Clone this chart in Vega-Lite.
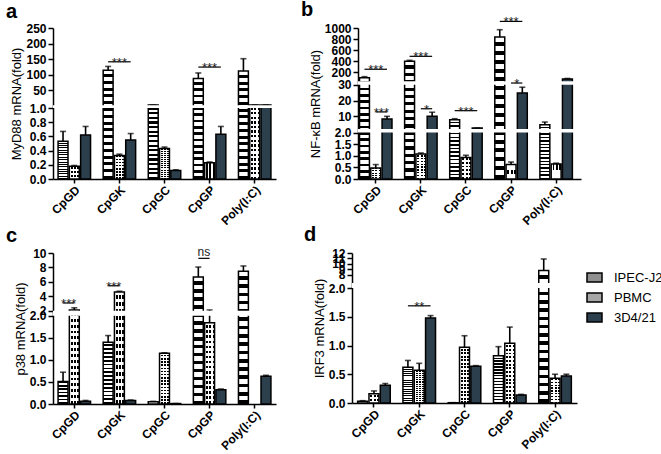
{
  "$schema": "https://vega.github.io/schema/vega-lite/v6.json",
  "padding": {"left": 6, "top": 0, "right": 2, "bottom": 0},
  "datasets": {
    "a": [
      {"key": "CpGD|IPEC-J2", "series": "IPEC-J2", "value": 0.53, "err": 0.67},
      {"key": "CpGD|PBMC", "series": "PBMC", "value": 0.18, "err": 0.19},
      {"key": "CpGD|3D4/21", "series": "3D4/21", "value": 0.62, "err": 0.74},
      {"key": "CpGK|IPEC-J2", "series": "IPEC-J2", "value": 114, "err": 126},
      {"key": "CpGK|PBMC", "series": "PBMC", "value": 0.33, "err": 0.35},
      {"key": "CpGK|3D4/21", "series": "3D4/21", "value": 0.55, "err": 0.64},
      {"key": "CpGC|IPEC-J2", "series": "IPEC-J2", "value": 1.5, "err": 1.5},
      {"key": "CpGC|PBMC", "series": "PBMC", "value": 0.43, "err": 0.45},
      {"key": "CpGC|3D4/21", "series": "3D4/21", "value": 0.12, "err": 0.13},
      {"key": "CpGP|IPEC-J2", "series": "IPEC-J2", "value": 87, "err": 105},
      {"key": "CpGP|PBMC", "series": "PBMC", "value": 0.23, "err": 0.24},
      {"key": "CpGP|3D4/21", "series": "3D4/21", "value": 0.63, "err": 0.74},
      {"key": "Poly(I:C)|IPEC-J2", "series": "IPEC-J2", "value": 111, "err": 151},
      {"key": "Poly(I:C)|PBMC", "series": "PBMC", "value": 1.5, "err": 1.5},
      {"key": "Poly(I:C)|3D4/21", "series": "3D4/21", "value": 1.5, "err": 1.5}
    ],
    "as": [
      {"from": "CpGK|IPEC-J2", "to": "CpGK|3D4/21", "y": 141, "label": "***", "span": 2},
      {"from": "CpGP|IPEC-J2", "to": "CpGP|3D4/21", "y": 124, "label": "***", "span": 2}
    ],
    "b": [
      {"key": "CpGD|IPEC-J2", "series": "IPEC-J2", "value": 95, "err": 115},
      {"key": "CpGD|PBMC", "series": "PBMC", "value": 0.47, "err": 0.62},
      {"key": "CpGD|3D4/21", "series": "3D4/21", "value": 8.3, "err": 10},
      {"key": "CpGK|IPEC-J2", "series": "IPEC-J2", "value": 394, "err": 412},
      {"key": "CpGK|PBMC", "series": "PBMC", "value": 1.07, "err": 1.12},
      {"key": "CpGK|3D4/21", "series": "3D4/21", "value": 10, "err": 12.6},
      {"key": "CpGC|IPEC-J2", "series": "IPEC-J2", "value": 7.9, "err": 8.5},
      {"key": "CpGC|PBMC", "series": "PBMC", "value": 0.93, "err": 1.02},
      {"key": "CpGC|3D4/21", "series": "3D4/21", "value": 2.6, "err": 2.6},
      {"key": "CpGP|IPEC-J2", "series": "IPEC-J2", "value": 836, "err": 969},
      {"key": "CpGP|PBMC", "series": "PBMC", "value": 0.62, "err": 0.73},
      {"key": "CpGP|3D4/21", "series": "3D4/21", "value": 24.8, "err": 28.4},
      {"key": "Poly(I:C)|IPEC-J2", "series": "IPEC-J2", "value": 4.7, "err": 6.4},
      {"key": "Poly(I:C)|PBMC", "series": "PBMC", "value": 0.65, "err": 0.68},
      {"key": "Poly(I:C)|3D4/21", "series": "3D4/21", "value": 72, "err": 82}
    ],
    "bs": [
      {"from": "CpGD|IPEC-J2", "to": "CpGD|3D4/21", "y": 250, "label": "***", "span": 2},
      {"from": "CpGD|PBMC", "to": "CpGD|3D4/21", "y": 12.8, "label": "***", "span": 1},
      {"from": "CpGK|IPEC-J2", "to": "CpGK|3D4/21", "y": 485, "label": "***", "span": 2},
      {"from": "CpGK|PBMC", "to": "CpGK|3D4/21", "y": 14.8, "label": "*", "span": 1},
      {"from": "CpGC|IPEC-J2", "to": "CpGC|3D4/21", "y": 13.6, "label": "***", "span": 2},
      {"from": "CpGP|IPEC-J2", "to": "CpGP|3D4/21", "y": 1120, "label": "***", "span": 2},
      {"from": "CpGP|PBMC", "to": "CpGP|3D4/21", "y": 30.00005, "label": "*", "span": 1}
    ],
    "c": [
      {"key": "CpGD|IPEC-J2", "series": "IPEC-J2", "value": 0.51, "err": 0.72},
      {"key": "CpGD|PBMC", "series": "PBMC", "value": 2.1, "err": 2.4},
      {"key": "CpGD|3D4/21", "series": "3D4/21", "value": 0.06, "err": 0.08},
      {"key": "CpGK|IPEC-J2", "series": "IPEC-J2", "value": 1.4, "err": 1.55},
      {"key": "CpGK|PBMC", "series": "PBMC", "value": 4.6, "err": 4.7},
      {"key": "CpGK|3D4/21", "series": "3D4/21", "value": 0.08, "err": 0.09},
      {"key": "CpGC|IPEC-J2", "series": "IPEC-J2", "value": 0.05, "err": 0.06},
      {"key": "CpGC|PBMC", "series": "PBMC", "value": 1.15, "err": 1.16},
      {"key": "CpGC|3D4/21", "series": "3D4/21", "value": 0.01, "err": 0.01},
      {"key": "CpGP|IPEC-J2", "series": "IPEC-J2", "value": 6.67, "err": 8.05},
      {"key": "CpGP|PBMC", "series": "PBMC", "value": 1.84, "err": 2.1},
      {"key": "CpGP|3D4/21", "series": "3D4/21", "value": 0.32, "err": 0.34},
      {"key": "Poly(I:C)|IPEC-J2", "series": "IPEC-J2", "value": 7.46, "err": 8.2},
      {"key": "Poly(I:C)|3D4/21", "series": "3D4/21", "value": 0.63, "err": 0.65}
    ],
    "cs": [
      {"from": "CpGD|IPEC-J2", "to": "CpGD|PBMC", "y": 3.07, "label": "***", "span": 1},
      {"from": "CpGK|IPEC-J2", "to": "CpGK|PBMC", "y": 5.46, "label": "***", "span": 1},
      {"from": "CpGP|IPEC-J2", "to": "CpGP|PBMC", "y": 9.26, "label": "ns", "span": 1}
    ],
    "d": [
      {"key": "CpGD|IPEC-J2", "series": "IPEC-J2", "value": 0.03, "err": 0.04},
      {"key": "CpGD|PBMC", "series": "PBMC", "value": 0.16, "err": 0.21},
      {"key": "CpGD|3D4/21", "series": "3D4/21", "value": 0.31, "err": 0.34},
      {"key": "CpGK|IPEC-J2", "series": "IPEC-J2", "value": 0.62, "err": 0.74},
      {"key": "CpGK|PBMC", "series": "PBMC", "value": 0.57, "err": 0.69},
      {"key": "CpGK|3D4/21", "series": "3D4/21", "value": 1.48, "err": 1.52},
      {"key": "CpGC|IPEC-J2", "series": "IPEC-J2", "value": 0.005, "err": 0.005},
      {"key": "CpGC|PBMC", "series": "PBMC", "value": 0.97, "err": 1.17},
      {"key": "CpGC|3D4/21", "series": "3D4/21", "value": 0.64, "err": 0.65},
      {"key": "CpGP|IPEC-J2", "series": "IPEC-J2", "value": 0.82, "err": 0.98},
      {"key": "CpGP|PBMC", "series": "PBMC", "value": 1.04, "err": 1.32},
      {"key": "CpGP|3D4/21", "series": "3D4/21", "value": 0.14, "err": 0.15},
      {"key": "Poly(I:C)|IPEC-J2", "series": "IPEC-J2", "value": 8.8, "err": 10.9},
      {"key": "Poly(I:C)|PBMC", "series": "PBMC", "value": 0.43, "err": 0.5},
      {"key": "Poly(I:C)|3D4/21", "series": "3D4/21", "value": 0.47, "err": 0.5}
    ],
    "ds": [
      {"from": "CpGK|IPEC-J2", "to": "CpGK|3D4/21", "y": 1.69, "label": "**", "span": 2}
    ],
    "one": [{}]
  },
  "spacing": -2,
  "vconcat": [
    {
      "spacing": 25,
      "hconcat": [
        {
          "title": {"text": "a", "dx": -47, "offset": 0},
          "width": 223, "height": 151,
          "layer": [
            {"data": {"name": "a"}, "mark": {"type": "bar"},
             "encoding": {
               "x": {"field": "key", "type": "nominal", "scale": {"domain": ["CpGD|IPEC-J2","CpGD|PBMC","CpGD|3D4/21","g1","CpGK|IPEC-J2","CpGK|PBMC","CpGK|3D4/21","g2","CpGC|IPEC-J2","CpGC|PBMC","CpGC|3D4/21","g3","CpGP|IPEC-J2","CpGP|PBMC","CpGP|3D4/21","g4","Poly(I:C)|IPEC-J2","Poly(I:C)|PBMC","Poly(I:C)|3D4/21"], "paddingInner": 0.12, "paddingOuter": 0.45},
                     "axis": {"values": ["CpGD|PBMC","CpGK|PBMC","CpGC|PBMC","CpGP|PBMC","Poly(I:C)|PBMC"], "labelExpr": "split(datum.value,'|')[0]", "labelAngle": -45, "title": null, "tickSize": 4, "labelPadding": 1, "labelOverlap": false}},
               "y": {"field": "value", "type": "quantitative", "scale": {"domain": [0, 1, 1.0001, 250], "range": [151, 80, 77.2, 0], "nice": false, "zero": false},
                     "axis": {"values": [0, 0.2, 0.4, 0.6, 0.8, 1, 50, 100, 150, 200, 250], "tickCount": 50, "labelExpr": "datum.value <= 1 ? format(datum.value,'.1f') : format(datum.value,'d')", "title": "MyD88 mRNA(fold)", "labelOverlap": false}},
               "fill": {"field": "series", "type": "nominal", "scale": {"domain": ["IPEC-J2", "PBMC", "3D4/21"], "range": ["#8f8f8f", "#a6a6a6", "#2c3f4c"]},
                        "legend": {"orient": "none", "legendX": 533, "legendY": 241, "title": null, "symbolType": "M-1,-0.6H1V0.6H-1Z", "symbolSize": 225, "symbolStrokeColor": "#000", "symbolStrokeWidth": 1.5, "symbolOpacity": 1, "labelFontSize": 13, "labelFont": "Liberation Sans", "labelColor": "#000", "labelOffset": 11, "rowPadding": 4}}
             }},
            {"data": {"name": "a"}, "transform": [{"filter": "datum.series === 'IPEC-J2'"}], "mark": {"type": "bar", "fill": {"gradient": "linear", "x1": 0, "y1": 0, "x2": 0, "y2": 1, "stops": [
        {"offset": 0, "color": "#fff"}, {"offset": 0.035, "color": "#fff"}, {"offset": 0.035, "color": "#000"}, {"offset": 0.0625, "color": "#000"},
        {"offset": 0.0625, "color": "#fff"}, {"offset": 0.0975, "color": "#fff"}, {"offset": 0.0975, "color": "#000"}, {"offset": 0.125, "color": "#000"},
        {"offset": 0.125, "color": "#fff"}, {"offset": 0.16, "color": "#fff"}, {"offset": 0.16, "color": "#000"}, {"offset": 0.1875, "color": "#000"},
        {"offset": 0.1875, "color": "#fff"}, {"offset": 0.2225, "color": "#fff"}, {"offset": 0.2225, "color": "#000"}, {"offset": 0.25, "color": "#000"},
        {"offset": 0.25, "color": "#fff"}, {"offset": 0.285, "color": "#fff"}, {"offset": 0.285, "color": "#000"}, {"offset": 0.3125, "color": "#000"},
        {"offset": 0.3125, "color": "#fff"}, {"offset": 0.3475, "color": "#fff"}, {"offset": 0.3475, "color": "#000"}, {"offset": 0.375, "color": "#000"},
        {"offset": 0.375, "color": "#fff"}, {"offset": 0.41, "color": "#fff"}, {"offset": 0.41, "color": "#000"}, {"offset": 0.4375, "color": "#000"},
        {"offset": 0.4375, "color": "#fff"}, {"offset": 0.4725, "color": "#fff"}, {"offset": 0.4725, "color": "#000"}, {"offset": 0.5, "color": "#000"},
        {"offset": 0.5, "color": "#fff"}, {"offset": 0.535, "color": "#fff"}, {"offset": 0.535, "color": "#000"}, {"offset": 0.5625, "color": "#000"},
        {"offset": 0.5625, "color": "#fff"}, {"offset": 0.5975, "color": "#fff"}, {"offset": 0.5975, "color": "#000"}, {"offset": 0.625, "color": "#000"},
        {"offset": 0.625, "color": "#fff"}, {"offset": 0.66, "color": "#fff"}, {"offset": 0.66, "color": "#000"}, {"offset": 0.6875, "color": "#000"},
        {"offset": 0.6875, "color": "#fff"}, {"offset": 0.7225, "color": "#fff"}, {"offset": 0.7225, "color": "#000"}, {"offset": 0.75, "color": "#000"},
        {"offset": 0.75, "color": "#fff"}, {"offset": 0.785, "color": "#fff"}, {"offset": 0.785, "color": "#000"}, {"offset": 0.8125, "color": "#000"},
        {"offset": 0.8125, "color": "#fff"}, {"offset": 0.8475, "color": "#fff"}, {"offset": 0.8475, "color": "#000"}, {"offset": 0.875, "color": "#000"},
        {"offset": 0.875, "color": "#fff"}, {"offset": 0.91, "color": "#fff"}, {"offset": 0.91, "color": "#000"}, {"offset": 0.9375, "color": "#000"},
        {"offset": 0.9375, "color": "#fff"}, {"offset": 0.9725, "color": "#fff"}, {"offset": 0.9725, "color": "#000"}, {"offset": 1, "color": "#000"}]}},
             "encoding": {"x": {"field": "key", "type": "nominal"}, "y": {"field": "value", "type": "quantitative"}}},
            {"data": {"name": "a"}, "transform": [{"filter": "datum.series === 'PBMC'"}], "mark": {"type": "bar", "fill": {"gradient": "linear", "x1": 0, "y1": 0, "x2": 1, "y2": 0, "stops": [
        {"offset": 0, "color": "#fff"}, {"offset": 0.1333, "color": "#fff"}, {"offset": 0.1333, "color": "#000"}, {"offset": 0.3333, "color": "#000"},
        {"offset": 0.3333, "color": "#fff"}, {"offset": 0.4667, "color": "#fff"}, {"offset": 0.4667, "color": "#000"}, {"offset": 0.6667, "color": "#000"},
        {"offset": 0.6667, "color": "#fff"}, {"offset": 0.8, "color": "#fff"}, {"offset": 0.8, "color": "#000"}, {"offset": 1, "color": "#000"}]}},
             "encoding": {"x": {"field": "key", "type": "nominal"}, "y": {"field": "value", "type": "quantitative"}}},
            {"data": {"name": "a"}, "transform": [{"filter": "datum.series === 'PBMC'"}], "mark": {"type": "bar", "fill": {"gradient": "linear", "x1": 0, "y1": 0, "x2": 0, "y2": 1, "stops": [
      {"offset": 0, "color": "#fff"}, {"offset": 0.03125, "color": "#fff"}, {"offset": 0.03125, "color": "rgba(255,255,255,0)"}, {"offset": 0.0625, "color": "rgba(255,255,255,0)"},
      {"offset": 0.0625, "color": "#fff"}, {"offset": 0.09375, "color": "#fff"}, {"offset": 0.09375, "color": "rgba(255,255,255,0)"}, {"offset": 0.125, "color": "rgba(255,255,255,0)"},
      {"offset": 0.125, "color": "#fff"}, {"offset": 0.15625, "color": "#fff"}, {"offset": 0.15625, "color": "rgba(255,255,255,0)"}, {"offset": 0.1875, "color": "rgba(255,255,255,0)"},
      {"offset": 0.1875, "color": "#fff"}, {"offset": 0.21875, "color": "#fff"}, {"offset": 0.21875, "color": "rgba(255,255,255,0)"}, {"offset": 0.25, "color": "rgba(255,255,255,0)"},
      {"offset": 0.25, "color": "#fff"}, {"offset": 0.28125, "color": "#fff"}, {"offset": 0.28125, "color": "rgba(255,255,255,0)"}, {"offset": 0.3125, "color": "rgba(255,255,255,0)"},
      {"offset": 0.3125, "color": "#fff"}, {"offset": 0.34375, "color": "#fff"}, {"offset": 0.34375, "color": "rgba(255,255,255,0)"}, {"offset": 0.375, "color": "rgba(255,255,255,0)"},
      {"offset": 0.375, "color": "#fff"}, {"offset": 0.40625, "color": "#fff"}, {"offset": 0.40625, "color": "rgba(255,255,255,0)"}, {"offset": 0.4375, "color": "rgba(255,255,255,0)"},
      {"offset": 0.4375, "color": "#fff"}, {"offset": 0.46875, "color": "#fff"}, {"offset": 0.46875, "color": "rgba(255,255,255,0)"}, {"offset": 0.5, "color": "rgba(255,255,255,0)"},
      {"offset": 0.5, "color": "#fff"}, {"offset": 0.53125, "color": "#fff"}, {"offset": 0.53125, "color": "rgba(255,255,255,0)"}, {"offset": 0.5625, "color": "rgba(255,255,255,0)"},
      {"offset": 0.5625, "color": "#fff"}, {"offset": 0.59375, "color": "#fff"}, {"offset": 0.59375, "color": "rgba(255,255,255,0)"}, {"offset": 0.625, "color": "rgba(255,255,255,0)"},
      {"offset": 0.625, "color": "#fff"}, {"offset": 0.65625, "color": "#fff"}, {"offset": 0.65625, "color": "rgba(255,255,255,0)"}, {"offset": 0.6875, "color": "rgba(255,255,255,0)"},
      {"offset": 0.6875, "color": "#fff"}, {"offset": 0.71875, "color": "#fff"}, {"offset": 0.71875, "color": "rgba(255,255,255,0)"}, {"offset": 0.75, "color": "rgba(255,255,255,0)"},
      {"offset": 0.75, "color": "#fff"}, {"offset": 0.78125, "color": "#fff"}, {"offset": 0.78125, "color": "rgba(255,255,255,0)"}, {"offset": 0.8125, "color": "rgba(255,255,255,0)"},
      {"offset": 0.8125, "color": "#fff"}, {"offset": 0.84375, "color": "#fff"}, {"offset": 0.84375, "color": "rgba(255,255,255,0)"}, {"offset": 0.875, "color": "rgba(255,255,255,0)"},
      {"offset": 0.875, "color": "#fff"}, {"offset": 0.90625, "color": "#fff"}, {"offset": 0.90625, "color": "rgba(255,255,255,0)"}, {"offset": 0.9375, "color": "rgba(255,255,255,0)"},
      {"offset": 0.9375, "color": "#fff"}, {"offset": 0.96875, "color": "#fff"}, {"offset": 0.96875, "color": "rgba(255,255,255,0)"}, {"offset": 1, "color": "rgba(255,255,255,0)"}]}},
             "encoding": {"x": {"field": "key", "type": "nominal"}, "y": {"field": "value", "type": "quantitative"}}},
            {"data": {"name": "a"}, "mark": {"type": "bar", "fillOpacity": 0, "stroke": "#000", "strokeWidth": 1.5},
             "encoding": {"x": {"field": "key", "type": "nominal"}, "y": {"field": "value", "type": "quantitative"}}},
            {"data": {"name": "a"}, "mark": {"type": "rule", "color": "#000", "strokeWidth": 1.6},
             "encoding": {"x": {"field": "key", "type": "nominal"}, "y": {"field": "value", "type": "quantitative"}, "y2": {"field": "err"}}},
            {"data": {"name": "a"}, "mark": {"type": "tick", "color": "#000", "thickness": 1.6, "size": 6},
             "encoding": {"x": {"field": "key", "type": "nominal"}, "y": {"field": "err", "type": "quantitative"}}},
            {"data": {"name": "one"}, "mark": {"type": "rect", "fill": "#fff"},
             "encoding": {"y": {"datum": 1, "type": "quantitative"}, "y2": {"datum": 1.0001}}},
            {"data": {"name": "as"}, "mark": {"type": "rule", "color": "#000", "strokeWidth": 1.2},
             "encoding": {"x": {"field": "from", "type": "nominal"}, "x2": {"field": "to"}, "y": {"field": "y", "type": "quantitative"}}},
            {"data": {"name": "as"}, "transform": [{"filter": "datum.span === 2"}], "mark": {"type": "text", "fontSize": 13, "dy": 5, "baseline": "alphabetic", "color": "#222"},
             "encoding": {"x": {"field": "from", "type": "nominal", "bandPosition": 1.636}, "y": {"field": "y", "type": "quantitative"}, "text": {"field": "label"}}}
          ]
        },
        {
          "title": {"text": "b", "dx": -57, "offset": -4},
          "width": 223, "height": 151,
          "layer": [
            {"data": {"name": "b"}, "mark": {"type": "bar"},
             "encoding": {
               "x": {"field": "key", "type": "nominal", "scale": {"domain": ["CpGD|IPEC-J2","CpGD|PBMC","CpGD|3D4/21","g1","CpGK|IPEC-J2","CpGK|PBMC","CpGK|3D4/21","g2","CpGC|IPEC-J2","CpGC|PBMC","CpGC|3D4/21","g3","CpGP|IPEC-J2","CpGP|PBMC","CpGP|3D4/21","g4","Poly(I:C)|IPEC-J2","Poly(I:C)|PBMC","Poly(I:C)|3D4/21"], "paddingInner": 0.12, "paddingOuter": 0.45, "align": 0.15},
                     "axis": {"values": ["CpGD|PBMC","CpGK|PBMC","CpGC|PBMC","CpGP|PBMC","Poly(I:C)|PBMC"], "labelExpr": "split(datum.value,'|')[0]", "labelAngle": -45, "title": null, "tickSize": 4, "labelPadding": 1, "labelOverlap": false}},
               "y": {"field": "value", "type": "quantitative", "scale": {"domain": [0, 2, 2.0001, 30, 30.0001, 1000], "range": [151, 104.5, 101, 56.7, 53.35, 0], "nice": false, "zero": false},
                     "axis": {"values": [0, 0.5, 1, 1.5, 2, 10, 20, 30, 200, 400, 600, 800, 1000], "tickCount": 50, "labelExpr": "datum.value <= 2 ? format(datum.value,'.1f') : format(datum.value,'d')", "title": "NF-κB mRNA(fold)", "labelOverlap": false}},
               "fill": {"field": "series", "type": "nominal", "scale": {"domain": ["IPEC-J2", "PBMC", "3D4/21"], "range": ["#8f8f8f", "#a6a6a6", "#2c3f4c"]}, "legend": null}
             }},
            {"data": {"name": "b"}, "transform": [{"filter": "datum.series === 'IPEC-J2'"}], "mark": {"type": "bar", "fill": {"gradient": "linear", "x1": 0, "y1": 0, "x2": 0, "y2": 1, "stops": [
        {"offset": 0, "color": "#fff"}, {"offset": 0.035, "color": "#fff"}, {"offset": 0.035, "color": "#000"}, {"offset": 0.0625, "color": "#000"},
        {"offset": 0.0625, "color": "#fff"}, {"offset": 0.0975, "color": "#fff"}, {"offset": 0.0975, "color": "#000"}, {"offset": 0.125, "color": "#000"},
        {"offset": 0.125, "color": "#fff"}, {"offset": 0.16, "color": "#fff"}, {"offset": 0.16, "color": "#000"}, {"offset": 0.1875, "color": "#000"},
        {"offset": 0.1875, "color": "#fff"}, {"offset": 0.2225, "color": "#fff"}, {"offset": 0.2225, "color": "#000"}, {"offset": 0.25, "color": "#000"},
        {"offset": 0.25, "color": "#fff"}, {"offset": 0.285, "color": "#fff"}, {"offset": 0.285, "color": "#000"}, {"offset": 0.3125, "color": "#000"},
        {"offset": 0.3125, "color": "#fff"}, {"offset": 0.3475, "color": "#fff"}, {"offset": 0.3475, "color": "#000"}, {"offset": 0.375, "color": "#000"},
        {"offset": 0.375, "color": "#fff"}, {"offset": 0.41, "color": "#fff"}, {"offset": 0.41, "color": "#000"}, {"offset": 0.4375, "color": "#000"},
        {"offset": 0.4375, "color": "#fff"}, {"offset": 0.4725, "color": "#fff"}, {"offset": 0.4725, "color": "#000"}, {"offset": 0.5, "color": "#000"},
        {"offset": 0.5, "color": "#fff"}, {"offset": 0.535, "color": "#fff"}, {"offset": 0.535, "color": "#000"}, {"offset": 0.5625, "color": "#000"},
        {"offset": 0.5625, "color": "#fff"}, {"offset": 0.5975, "color": "#fff"}, {"offset": 0.5975, "color": "#000"}, {"offset": 0.625, "color": "#000"},
        {"offset": 0.625, "color": "#fff"}, {"offset": 0.66, "color": "#fff"}, {"offset": 0.66, "color": "#000"}, {"offset": 0.6875, "color": "#000"},
        {"offset": 0.6875, "color": "#fff"}, {"offset": 0.7225, "color": "#fff"}, {"offset": 0.7225, "color": "#000"}, {"offset": 0.75, "color": "#000"},
        {"offset": 0.75, "color": "#fff"}, {"offset": 0.785, "color": "#fff"}, {"offset": 0.785, "color": "#000"}, {"offset": 0.8125, "color": "#000"},
        {"offset": 0.8125, "color": "#fff"}, {"offset": 0.8475, "color": "#fff"}, {"offset": 0.8475, "color": "#000"}, {"offset": 0.875, "color": "#000"},
        {"offset": 0.875, "color": "#fff"}, {"offset": 0.91, "color": "#fff"}, {"offset": 0.91, "color": "#000"}, {"offset": 0.9375, "color": "#000"},
        {"offset": 0.9375, "color": "#fff"}, {"offset": 0.9725, "color": "#fff"}, {"offset": 0.9725, "color": "#000"}, {"offset": 1, "color": "#000"}]}},
             "encoding": {"x": {"field": "key", "type": "nominal"}, "y": {"field": "value", "type": "quantitative"}}},
            {"data": {"name": "b"}, "transform": [{"filter": "datum.series === 'PBMC'"}], "mark": {"type": "bar", "fill": {"gradient": "linear", "x1": 0, "y1": 0, "x2": 1, "y2": 0, "stops": [
        {"offset": 0, "color": "#fff"}, {"offset": 0.1333, "color": "#fff"}, {"offset": 0.1333, "color": "#000"}, {"offset": 0.3333, "color": "#000"},
        {"offset": 0.3333, "color": "#fff"}, {"offset": 0.4667, "color": "#fff"}, {"offset": 0.4667, "color": "#000"}, {"offset": 0.6667, "color": "#000"},
        {"offset": 0.6667, "color": "#fff"}, {"offset": 0.8, "color": "#fff"}, {"offset": 0.8, "color": "#000"}, {"offset": 1, "color": "#000"}]}},
             "encoding": {"x": {"field": "key", "type": "nominal"}, "y": {"field": "value", "type": "quantitative"}}},
            {"data": {"name": "b"}, "transform": [{"filter": "datum.series === 'PBMC'"}], "mark": {"type": "bar", "fill": {"gradient": "linear", "x1": 0, "y1": 0, "x2": 0, "y2": 1, "stops": [
      {"offset": 0, "color": "#fff"}, {"offset": 0.03125, "color": "#fff"}, {"offset": 0.03125, "color": "rgba(255,255,255,0)"}, {"offset": 0.0625, "color": "rgba(255,255,255,0)"},
      {"offset": 0.0625, "color": "#fff"}, {"offset": 0.09375, "color": "#fff"}, {"offset": 0.09375, "color": "rgba(255,255,255,0)"}, {"offset": 0.125, "color": "rgba(255,255,255,0)"},
      {"offset": 0.125, "color": "#fff"}, {"offset": 0.15625, "color": "#fff"}, {"offset": 0.15625, "color": "rgba(255,255,255,0)"}, {"offset": 0.1875, "color": "rgba(255,255,255,0)"},
      {"offset": 0.1875, "color": "#fff"}, {"offset": 0.21875, "color": "#fff"}, {"offset": 0.21875, "color": "rgba(255,255,255,0)"}, {"offset": 0.25, "color": "rgba(255,255,255,0)"},
      {"offset": 0.25, "color": "#fff"}, {"offset": 0.28125, "color": "#fff"}, {"offset": 0.28125, "color": "rgba(255,255,255,0)"}, {"offset": 0.3125, "color": "rgba(255,255,255,0)"},
      {"offset": 0.3125, "color": "#fff"}, {"offset": 0.34375, "color": "#fff"}, {"offset": 0.34375, "color": "rgba(255,255,255,0)"}, {"offset": 0.375, "color": "rgba(255,255,255,0)"},
      {"offset": 0.375, "color": "#fff"}, {"offset": 0.40625, "color": "#fff"}, {"offset": 0.40625, "color": "rgba(255,255,255,0)"}, {"offset": 0.4375, "color": "rgba(255,255,255,0)"},
      {"offset": 0.4375, "color": "#fff"}, {"offset": 0.46875, "color": "#fff"}, {"offset": 0.46875, "color": "rgba(255,255,255,0)"}, {"offset": 0.5, "color": "rgba(255,255,255,0)"},
      {"offset": 0.5, "color": "#fff"}, {"offset": 0.53125, "color": "#fff"}, {"offset": 0.53125, "color": "rgba(255,255,255,0)"}, {"offset": 0.5625, "color": "rgba(255,255,255,0)"},
      {"offset": 0.5625, "color": "#fff"}, {"offset": 0.59375, "color": "#fff"}, {"offset": 0.59375, "color": "rgba(255,255,255,0)"}, {"offset": 0.625, "color": "rgba(255,255,255,0)"},
      {"offset": 0.625, "color": "#fff"}, {"offset": 0.65625, "color": "#fff"}, {"offset": 0.65625, "color": "rgba(255,255,255,0)"}, {"offset": 0.6875, "color": "rgba(255,255,255,0)"},
      {"offset": 0.6875, "color": "#fff"}, {"offset": 0.71875, "color": "#fff"}, {"offset": 0.71875, "color": "rgba(255,255,255,0)"}, {"offset": 0.75, "color": "rgba(255,255,255,0)"},
      {"offset": 0.75, "color": "#fff"}, {"offset": 0.78125, "color": "#fff"}, {"offset": 0.78125, "color": "rgba(255,255,255,0)"}, {"offset": 0.8125, "color": "rgba(255,255,255,0)"},
      {"offset": 0.8125, "color": "#fff"}, {"offset": 0.84375, "color": "#fff"}, {"offset": 0.84375, "color": "rgba(255,255,255,0)"}, {"offset": 0.875, "color": "rgba(255,255,255,0)"},
      {"offset": 0.875, "color": "#fff"}, {"offset": 0.90625, "color": "#fff"}, {"offset": 0.90625, "color": "rgba(255,255,255,0)"}, {"offset": 0.9375, "color": "rgba(255,255,255,0)"},
      {"offset": 0.9375, "color": "#fff"}, {"offset": 0.96875, "color": "#fff"}, {"offset": 0.96875, "color": "rgba(255,255,255,0)"}, {"offset": 1, "color": "rgba(255,255,255,0)"}]}},
             "encoding": {"x": {"field": "key", "type": "nominal"}, "y": {"field": "value", "type": "quantitative"}}},
            {"data": {"name": "b"}, "mark": {"type": "bar", "fillOpacity": 0, "stroke": "#000", "strokeWidth": 1.5},
             "encoding": {"x": {"field": "key", "type": "nominal"}, "y": {"field": "value", "type": "quantitative"}}},
            {"data": {"name": "b"}, "mark": {"type": "rule", "color": "#000", "strokeWidth": 1.6},
             "encoding": {"x": {"field": "key", "type": "nominal"}, "y": {"field": "value", "type": "quantitative"}, "y2": {"field": "err"}}},
            {"data": {"name": "b"}, "mark": {"type": "tick", "color": "#000", "thickness": 1.6, "size": 6},
             "encoding": {"x": {"field": "key", "type": "nominal"}, "y": {"field": "err", "type": "quantitative"}}},
            {"data": {"name": "one"}, "mark": {"type": "rect", "fill": "#fff"},
             "encoding": {"y": {"datum": 2, "type": "quantitative"}, "y2": {"datum": 2.0001}}},
            {"data": {"name": "one"}, "mark": {"type": "rect", "fill": "#fff"},
             "encoding": {"y": {"datum": 30, "type": "quantitative"}, "y2": {"datum": 30.0001}}},
            {"data": {"name": "bs"}, "mark": {"type": "rule", "color": "#000", "strokeWidth": 1.2},
             "encoding": {"x": {"field": "from", "type": "nominal"}, "x2": {"field": "to"}, "y": {"field": "y", "type": "quantitative"}}},
            {"data": {"name": "bs"}, "transform": [{"filter": "datum.span === 2"}], "mark": {"type": "text", "fontSize": 13, "dy": 5, "baseline": "alphabetic", "color": "#222"},
             "encoding": {"x": {"field": "from", "type": "nominal", "bandPosition": 1.636}, "y": {"field": "y", "type": "quantitative"}, "text": {"field": "label"}}},
            {"data": {"name": "bs"}, "transform": [{"filter": "datum.span === 1"}], "mark": {"type": "text", "fontSize": 13, "dy": 5, "baseline": "alphabetic", "color": "#222"},
             "encoding": {"x": {"field": "from", "type": "nominal", "bandPosition": 1.068}, "y": {"field": "y", "type": "quantitative"}, "text": {"field": "label"}}}
          ]
        }
      ]
    },
    {
      "spacing": 28,
      "hconcat": [
        {
          "title": {"text": "c", "dx": -47, "offset": 0},
          "width": 223, "height": 151,
          "layer": [
            {"data": {"name": "c"}, "mark": {"type": "bar"},
             "encoding": {
               "x": {"field": "key", "type": "nominal", "scale": {"domain": ["CpGD|IPEC-J2","CpGD|PBMC","CpGD|3D4/21","g1","CpGK|IPEC-J2","CpGK|PBMC","CpGK|3D4/21","g2","CpGC|IPEC-J2","CpGC|PBMC","CpGC|3D4/21","g3","CpGP|IPEC-J2","CpGP|PBMC","CpGP|3D4/21","g4","Poly(I:C)|IPEC-J2","Poly(I:C)|PBMC","Poly(I:C)|3D4/21"], "paddingInner": 0.12, "paddingOuter": 0.45},
                     "axis": {"values": ["CpGD|PBMC","CpGK|PBMC","CpGC|PBMC","CpGP|PBMC","Poly(I:C)|PBMC"], "labelExpr": "split(datum.value,'|')[0]", "labelAngle": -45, "title": null, "tickSize": 4, "labelPadding": 1, "labelOverlap": false}},
               "y": {"field": "value", "type": "quantitative", "scale": {"domain": [0, 2, 2.0001, 10], "range": [151, 62.7, 57.7, 0], "nice": false, "zero": false},
                     "axis": {"values": [0, 0.5, 1, 1.5, 2, 2.0001, 4, 6, 8, 10], "tickCount": 50, "labelExpr": "datum.value <= 2 ? format(datum.value,'.1f') : format(datum.value,'d')", "title": "p38 mRNA(fold)", "labelOverlap": false}},
               "fill": {"field": "series", "type": "nominal", "scale": {"domain": ["IPEC-J2", "PBMC", "3D4/21"], "range": ["#8f8f8f", "#a6a6a6", "#2c3f4c"]}, "legend": null}
             }},
            {"data": {"name": "c"}, "transform": [{"filter": "datum.series === 'IPEC-J2'"}], "mark": {"type": "bar", "fill": {"gradient": "linear", "x1": 0, "y1": 0, "x2": 0, "y2": 1, "stops": [
        {"offset": 0, "color": "#fff"}, {"offset": 0.035, "color": "#fff"}, {"offset": 0.035, "color": "#000"}, {"offset": 0.0625, "color": "#000"},
        {"offset": 0.0625, "color": "#fff"}, {"offset": 0.0975, "color": "#fff"}, {"offset": 0.0975, "color": "#000"}, {"offset": 0.125, "color": "#000"},
        {"offset": 0.125, "color": "#fff"}, {"offset": 0.16, "color": "#fff"}, {"offset": 0.16, "color": "#000"}, {"offset": 0.1875, "color": "#000"},
        {"offset": 0.1875, "color": "#fff"}, {"offset": 0.2225, "color": "#fff"}, {"offset": 0.2225, "color": "#000"}, {"offset": 0.25, "color": "#000"},
        {"offset": 0.25, "color": "#fff"}, {"offset": 0.285, "color": "#fff"}, {"offset": 0.285, "color": "#000"}, {"offset": 0.3125, "color": "#000"},
        {"offset": 0.3125, "color": "#fff"}, {"offset": 0.3475, "color": "#fff"}, {"offset": 0.3475, "color": "#000"}, {"offset": 0.375, "color": "#000"},
        {"offset": 0.375, "color": "#fff"}, {"offset": 0.41, "color": "#fff"}, {"offset": 0.41, "color": "#000"}, {"offset": 0.4375, "color": "#000"},
        {"offset": 0.4375, "color": "#fff"}, {"offset": 0.4725, "color": "#fff"}, {"offset": 0.4725, "color": "#000"}, {"offset": 0.5, "color": "#000"},
        {"offset": 0.5, "color": "#fff"}, {"offset": 0.535, "color": "#fff"}, {"offset": 0.535, "color": "#000"}, {"offset": 0.5625, "color": "#000"},
        {"offset": 0.5625, "color": "#fff"}, {"offset": 0.5975, "color": "#fff"}, {"offset": 0.5975, "color": "#000"}, {"offset": 0.625, "color": "#000"},
        {"offset": 0.625, "color": "#fff"}, {"offset": 0.66, "color": "#fff"}, {"offset": 0.66, "color": "#000"}, {"offset": 0.6875, "color": "#000"},
        {"offset": 0.6875, "color": "#fff"}, {"offset": 0.7225, "color": "#fff"}, {"offset": 0.7225, "color": "#000"}, {"offset": 0.75, "color": "#000"},
        {"offset": 0.75, "color": "#fff"}, {"offset": 0.785, "color": "#fff"}, {"offset": 0.785, "color": "#000"}, {"offset": 0.8125, "color": "#000"},
        {"offset": 0.8125, "color": "#fff"}, {"offset": 0.8475, "color": "#fff"}, {"offset": 0.8475, "color": "#000"}, {"offset": 0.875, "color": "#000"},
        {"offset": 0.875, "color": "#fff"}, {"offset": 0.91, "color": "#fff"}, {"offset": 0.91, "color": "#000"}, {"offset": 0.9375, "color": "#000"},
        {"offset": 0.9375, "color": "#fff"}, {"offset": 0.9725, "color": "#fff"}, {"offset": 0.9725, "color": "#000"}, {"offset": 1, "color": "#000"}]}},
             "encoding": {"x": {"field": "key", "type": "nominal"}, "y": {"field": "value", "type": "quantitative"}}},
            {"data": {"name": "c"}, "transform": [{"filter": "datum.series === 'PBMC'"}], "mark": {"type": "bar", "fill": {"gradient": "linear", "x1": 0, "y1": 0, "x2": 1, "y2": 0, "stops": [
        {"offset": 0, "color": "#fff"}, {"offset": 0.1333, "color": "#fff"}, {"offset": 0.1333, "color": "#000"}, {"offset": 0.3333, "color": "#000"},
        {"offset": 0.3333, "color": "#fff"}, {"offset": 0.4667, "color": "#fff"}, {"offset": 0.4667, "color": "#000"}, {"offset": 0.6667, "color": "#000"},
        {"offset": 0.6667, "color": "#fff"}, {"offset": 0.8, "color": "#fff"}, {"offset": 0.8, "color": "#000"}, {"offset": 1, "color": "#000"}]}},
             "encoding": {"x": {"field": "key", "type": "nominal"}, "y": {"field": "value", "type": "quantitative"}}},
            {"data": {"name": "c"}, "transform": [{"filter": "datum.series === 'PBMC'"}], "mark": {"type": "bar", "fill": {"gradient": "linear", "x1": 0, "y1": 0, "x2": 0, "y2": 1, "stops": [
      {"offset": 0, "color": "#fff"}, {"offset": 0.03125, "color": "#fff"}, {"offset": 0.03125, "color": "rgba(255,255,255,0)"}, {"offset": 0.0625, "color": "rgba(255,255,255,0)"},
      {"offset": 0.0625, "color": "#fff"}, {"offset": 0.09375, "color": "#fff"}, {"offset": 0.09375, "color": "rgba(255,255,255,0)"}, {"offset": 0.125, "color": "rgba(255,255,255,0)"},
      {"offset": 0.125, "color": "#fff"}, {"offset": 0.15625, "color": "#fff"}, {"offset": 0.15625, "color": "rgba(255,255,255,0)"}, {"offset": 0.1875, "color": "rgba(255,255,255,0)"},
      {"offset": 0.1875, "color": "#fff"}, {"offset": 0.21875, "color": "#fff"}, {"offset": 0.21875, "color": "rgba(255,255,255,0)"}, {"offset": 0.25, "color": "rgba(255,255,255,0)"},
      {"offset": 0.25, "color": "#fff"}, {"offset": 0.28125, "color": "#fff"}, {"offset": 0.28125, "color": "rgba(255,255,255,0)"}, {"offset": 0.3125, "color": "rgba(255,255,255,0)"},
      {"offset": 0.3125, "color": "#fff"}, {"offset": 0.34375, "color": "#fff"}, {"offset": 0.34375, "color": "rgba(255,255,255,0)"}, {"offset": 0.375, "color": "rgba(255,255,255,0)"},
      {"offset": 0.375, "color": "#fff"}, {"offset": 0.40625, "color": "#fff"}, {"offset": 0.40625, "color": "rgba(255,255,255,0)"}, {"offset": 0.4375, "color": "rgba(255,255,255,0)"},
      {"offset": 0.4375, "color": "#fff"}, {"offset": 0.46875, "color": "#fff"}, {"offset": 0.46875, "color": "rgba(255,255,255,0)"}, {"offset": 0.5, "color": "rgba(255,255,255,0)"},
      {"offset": 0.5, "color": "#fff"}, {"offset": 0.53125, "color": "#fff"}, {"offset": 0.53125, "color": "rgba(255,255,255,0)"}, {"offset": 0.5625, "color": "rgba(255,255,255,0)"},
      {"offset": 0.5625, "color": "#fff"}, {"offset": 0.59375, "color": "#fff"}, {"offset": 0.59375, "color": "rgba(255,255,255,0)"}, {"offset": 0.625, "color": "rgba(255,255,255,0)"},
      {"offset": 0.625, "color": "#fff"}, {"offset": 0.65625, "color": "#fff"}, {"offset": 0.65625, "color": "rgba(255,255,255,0)"}, {"offset": 0.6875, "color": "rgba(255,255,255,0)"},
      {"offset": 0.6875, "color": "#fff"}, {"offset": 0.71875, "color": "#fff"}, {"offset": 0.71875, "color": "rgba(255,255,255,0)"}, {"offset": 0.75, "color": "rgba(255,255,255,0)"},
      {"offset": 0.75, "color": "#fff"}, {"offset": 0.78125, "color": "#fff"}, {"offset": 0.78125, "color": "rgba(255,255,255,0)"}, {"offset": 0.8125, "color": "rgba(255,255,255,0)"},
      {"offset": 0.8125, "color": "#fff"}, {"offset": 0.84375, "color": "#fff"}, {"offset": 0.84375, "color": "rgba(255,255,255,0)"}, {"offset": 0.875, "color": "rgba(255,255,255,0)"},
      {"offset": 0.875, "color": "#fff"}, {"offset": 0.90625, "color": "#fff"}, {"offset": 0.90625, "color": "rgba(255,255,255,0)"}, {"offset": 0.9375, "color": "rgba(255,255,255,0)"},
      {"offset": 0.9375, "color": "#fff"}, {"offset": 0.96875, "color": "#fff"}, {"offset": 0.96875, "color": "rgba(255,255,255,0)"}, {"offset": 1, "color": "rgba(255,255,255,0)"}]}},
             "encoding": {"x": {"field": "key", "type": "nominal"}, "y": {"field": "value", "type": "quantitative"}}},
            {"data": {"name": "c"}, "mark": {"type": "bar", "fillOpacity": 0, "stroke": "#000", "strokeWidth": 1.5},
             "encoding": {"x": {"field": "key", "type": "nominal"}, "y": {"field": "value", "type": "quantitative"}}},
            {"data": {"name": "c"}, "mark": {"type": "rule", "color": "#000", "strokeWidth": 1.6},
             "encoding": {"x": {"field": "key", "type": "nominal"}, "y": {"field": "value", "type": "quantitative"}, "y2": {"field": "err"}}},
            {"data": {"name": "c"}, "mark": {"type": "tick", "color": "#000", "thickness": 1.6, "size": 6},
             "encoding": {"x": {"field": "key", "type": "nominal"}, "y": {"field": "err", "type": "quantitative"}}},
            {"data": {"name": "one"}, "mark": {"type": "rect", "fill": "#fff"},
             "encoding": {"y": {"datum": 2, "type": "quantitative"}, "y2": {"datum": 2.0001}}},
            {"data": {"name": "cs"}, "mark": {"type": "rule", "color": "#000", "strokeWidth": 1.2},
             "encoding": {"x": {"field": "from", "type": "nominal"}, "x2": {"field": "to"}, "y": {"field": "y", "type": "quantitative"}}},
            {"data": {"name": "cs"}, "transform": [{"filter": "datum.label !== 'ns'"}], "mark": {"type": "text", "fontSize": 13, "dy": 5, "baseline": "alphabetic", "color": "#222"},
             "encoding": {"x": {"field": "from", "type": "nominal", "bandPosition": 1.068}, "y": {"field": "y", "type": "quantitative"}, "text": {"field": "label"}}},
            {"data": {"name": "cs"}, "transform": [{"filter": "datum.label === 'ns'"}], "mark": {"type": "text", "fontSize": 12, "dy": -2, "baseline": "alphabetic", "color": "#222"},
             "encoding": {"x": {"field": "from", "type": "nominal", "bandPosition": 1.068}, "y": {"field": "y", "type": "quantitative"}, "text": {"field": "label"}}}
          ]
        },
        {
          "title": {"text": "d", "dx": -48, "offset": 2},
          "width": 225, "height": 150,
          "layer": [
            {"data": {"name": "d"}, "mark": {"type": "bar"},
             "encoding": {
               "x": {"field": "key", "type": "nominal", "scale": {"domain": ["CpGD|IPEC-J2","CpGD|PBMC","CpGD|3D4/21","g1","CpGK|IPEC-J2","CpGK|PBMC","CpGK|3D4/21","g2","CpGC|IPEC-J2","CpGC|PBMC","CpGC|3D4/21","g3","CpGP|IPEC-J2","CpGP|PBMC","CpGP|3D4/21","g4","Poly(I:C)|IPEC-J2","Poly(I:C)|PBMC","Poly(I:C)|3D4/21"], "paddingInner": 0.12, "paddingOuter": 0.5},
                     "axis": {"values": ["CpGD|PBMC","CpGK|PBMC","CpGC|PBMC","CpGP|PBMC","Poly(I:C)|PBMC"], "labelExpr": "split(datum.value,'|')[0]", "labelAngle": -45, "title": null, "tickSize": 4, "labelPadding": 1, "labelOverlap": false}},
               "y": {"field": "value", "type": "quantitative", "scale": {"domain": [0, 2, 6.5, 12], "range": [150, 35, 30, 0], "nice": false, "zero": false},
                     "axis": {"values": [0, 0.5, 1, 1.5, 2, 8, 9, 10, 11, 12], "tickCount": 50, "labelExpr": "datum.value <= 2 ? format(datum.value,'.1f') : format(datum.value,'d')", "title": "IRF3 mRNA(fold)", "labelOverlap": false}},
               "fill": {"field": "series", "type": "nominal", "scale": {"domain": ["IPEC-J2", "PBMC", "3D4/21"], "range": ["#8f8f8f", "#a6a6a6", "#2c3f4c"]}, "legend": null}
             }},
            {"data": {"name": "d"}, "transform": [{"filter": "datum.series === 'IPEC-J2'"}], "mark": {"type": "bar", "fill": {"gradient": "linear", "x1": 0, "y1": 0, "x2": 0, "y2": 1, "stops": [
        {"offset": 0, "color": "#fff"}, {"offset": 0.035, "color": "#fff"}, {"offset": 0.035, "color": "#000"}, {"offset": 0.0625, "color": "#000"},
        {"offset": 0.0625, "color": "#fff"}, {"offset": 0.0975, "color": "#fff"}, {"offset": 0.0975, "color": "#000"}, {"offset": 0.125, "color": "#000"},
        {"offset": 0.125, "color": "#fff"}, {"offset": 0.16, "color": "#fff"}, {"offset": 0.16, "color": "#000"}, {"offset": 0.1875, "color": "#000"},
        {"offset": 0.1875, "color": "#fff"}, {"offset": 0.2225, "color": "#fff"}, {"offset": 0.2225, "color": "#000"}, {"offset": 0.25, "color": "#000"},
        {"offset": 0.25, "color": "#fff"}, {"offset": 0.285, "color": "#fff"}, {"offset": 0.285, "color": "#000"}, {"offset": 0.3125, "color": "#000"},
        {"offset": 0.3125, "color": "#fff"}, {"offset": 0.3475, "color": "#fff"}, {"offset": 0.3475, "color": "#000"}, {"offset": 0.375, "color": "#000"},
        {"offset": 0.375, "color": "#fff"}, {"offset": 0.41, "color": "#fff"}, {"offset": 0.41, "color": "#000"}, {"offset": 0.4375, "color": "#000"},
        {"offset": 0.4375, "color": "#fff"}, {"offset": 0.4725, "color": "#fff"}, {"offset": 0.4725, "color": "#000"}, {"offset": 0.5, "color": "#000"},
        {"offset": 0.5, "color": "#fff"}, {"offset": 0.535, "color": "#fff"}, {"offset": 0.535, "color": "#000"}, {"offset": 0.5625, "color": "#000"},
        {"offset": 0.5625, "color": "#fff"}, {"offset": 0.5975, "color": "#fff"}, {"offset": 0.5975, "color": "#000"}, {"offset": 0.625, "color": "#000"},
        {"offset": 0.625, "color": "#fff"}, {"offset": 0.66, "color": "#fff"}, {"offset": 0.66, "color": "#000"}, {"offset": 0.6875, "color": "#000"},
        {"offset": 0.6875, "color": "#fff"}, {"offset": 0.7225, "color": "#fff"}, {"offset": 0.7225, "color": "#000"}, {"offset": 0.75, "color": "#000"},
        {"offset": 0.75, "color": "#fff"}, {"offset": 0.785, "color": "#fff"}, {"offset": 0.785, "color": "#000"}, {"offset": 0.8125, "color": "#000"},
        {"offset": 0.8125, "color": "#fff"}, {"offset": 0.8475, "color": "#fff"}, {"offset": 0.8475, "color": "#000"}, {"offset": 0.875, "color": "#000"},
        {"offset": 0.875, "color": "#fff"}, {"offset": 0.91, "color": "#fff"}, {"offset": 0.91, "color": "#000"}, {"offset": 0.9375, "color": "#000"},
        {"offset": 0.9375, "color": "#fff"}, {"offset": 0.9725, "color": "#fff"}, {"offset": 0.9725, "color": "#000"}, {"offset": 1, "color": "#000"}]}},
             "encoding": {"x": {"field": "key", "type": "nominal"}, "y": {"field": "value", "type": "quantitative"}}},
            {"data": {"name": "d"}, "transform": [{"filter": "datum.series === 'PBMC'"}], "mark": {"type": "bar", "fill": {"gradient": "linear", "x1": 0, "y1": 0, "x2": 1, "y2": 0, "stops": [
        {"offset": 0, "color": "#fff"}, {"offset": 0.1333, "color": "#fff"}, {"offset": 0.1333, "color": "#000"}, {"offset": 0.3333, "color": "#000"},
        {"offset": 0.3333, "color": "#fff"}, {"offset": 0.4667, "color": "#fff"}, {"offset": 0.4667, "color": "#000"}, {"offset": 0.6667, "color": "#000"},
        {"offset": 0.6667, "color": "#fff"}, {"offset": 0.8, "color": "#fff"}, {"offset": 0.8, "color": "#000"}, {"offset": 1, "color": "#000"}]}},
             "encoding": {"x": {"field": "key", "type": "nominal"}, "y": {"field": "value", "type": "quantitative"}}},
            {"data": {"name": "d"}, "transform": [{"filter": "datum.series === 'PBMC'"}], "mark": {"type": "bar", "fill": {"gradient": "linear", "x1": 0, "y1": 0, "x2": 0, "y2": 1, "stops": [
      {"offset": 0, "color": "#fff"}, {"offset": 0.03125, "color": "#fff"}, {"offset": 0.03125, "color": "rgba(255,255,255,0)"}, {"offset": 0.0625, "color": "rgba(255,255,255,0)"},
      {"offset": 0.0625, "color": "#fff"}, {"offset": 0.09375, "color": "#fff"}, {"offset": 0.09375, "color": "rgba(255,255,255,0)"}, {"offset": 0.125, "color": "rgba(255,255,255,0)"},
      {"offset": 0.125, "color": "#fff"}, {"offset": 0.15625, "color": "#fff"}, {"offset": 0.15625, "color": "rgba(255,255,255,0)"}, {"offset": 0.1875, "color": "rgba(255,255,255,0)"},
      {"offset": 0.1875, "color": "#fff"}, {"offset": 0.21875, "color": "#fff"}, {"offset": 0.21875, "color": "rgba(255,255,255,0)"}, {"offset": 0.25, "color": "rgba(255,255,255,0)"},
      {"offset": 0.25, "color": "#fff"}, {"offset": 0.28125, "color": "#fff"}, {"offset": 0.28125, "color": "rgba(255,255,255,0)"}, {"offset": 0.3125, "color": "rgba(255,255,255,0)"},
      {"offset": 0.3125, "color": "#fff"}, {"offset": 0.34375, "color": "#fff"}, {"offset": 0.34375, "color": "rgba(255,255,255,0)"}, {"offset": 0.375, "color": "rgba(255,255,255,0)"},
      {"offset": 0.375, "color": "#fff"}, {"offset": 0.40625, "color": "#fff"}, {"offset": 0.40625, "color": "rgba(255,255,255,0)"}, {"offset": 0.4375, "color": "rgba(255,255,255,0)"},
      {"offset": 0.4375, "color": "#fff"}, {"offset": 0.46875, "color": "#fff"}, {"offset": 0.46875, "color": "rgba(255,255,255,0)"}, {"offset": 0.5, "color": "rgba(255,255,255,0)"},
      {"offset": 0.5, "color": "#fff"}, {"offset": 0.53125, "color": "#fff"}, {"offset": 0.53125, "color": "rgba(255,255,255,0)"}, {"offset": 0.5625, "color": "rgba(255,255,255,0)"},
      {"offset": 0.5625, "color": "#fff"}, {"offset": 0.59375, "color": "#fff"}, {"offset": 0.59375, "color": "rgba(255,255,255,0)"}, {"offset": 0.625, "color": "rgba(255,255,255,0)"},
      {"offset": 0.625, "color": "#fff"}, {"offset": 0.65625, "color": "#fff"}, {"offset": 0.65625, "color": "rgba(255,255,255,0)"}, {"offset": 0.6875, "color": "rgba(255,255,255,0)"},
      {"offset": 0.6875, "color": "#fff"}, {"offset": 0.71875, "color": "#fff"}, {"offset": 0.71875, "color": "rgba(255,255,255,0)"}, {"offset": 0.75, "color": "rgba(255,255,255,0)"},
      {"offset": 0.75, "color": "#fff"}, {"offset": 0.78125, "color": "#fff"}, {"offset": 0.78125, "color": "rgba(255,255,255,0)"}, {"offset": 0.8125, "color": "rgba(255,255,255,0)"},
      {"offset": 0.8125, "color": "#fff"}, {"offset": 0.84375, "color": "#fff"}, {"offset": 0.84375, "color": "rgba(255,255,255,0)"}, {"offset": 0.875, "color": "rgba(255,255,255,0)"},
      {"offset": 0.875, "color": "#fff"}, {"offset": 0.90625, "color": "#fff"}, {"offset": 0.90625, "color": "rgba(255,255,255,0)"}, {"offset": 0.9375, "color": "rgba(255,255,255,0)"},
      {"offset": 0.9375, "color": "#fff"}, {"offset": 0.96875, "color": "#fff"}, {"offset": 0.96875, "color": "rgba(255,255,255,0)"}, {"offset": 1, "color": "rgba(255,255,255,0)"}]}},
             "encoding": {"x": {"field": "key", "type": "nominal"}, "y": {"field": "value", "type": "quantitative"}}},
            {"data": {"name": "d"}, "mark": {"type": "bar", "fillOpacity": 0, "stroke": "#000", "strokeWidth": 1.5},
             "encoding": {"x": {"field": "key", "type": "nominal"}, "y": {"field": "value", "type": "quantitative"}}},
            {"data": {"name": "d"}, "mark": {"type": "rule", "color": "#000", "strokeWidth": 1.6},
             "encoding": {"x": {"field": "key", "type": "nominal"}, "y": {"field": "value", "type": "quantitative"}, "y2": {"field": "err"}}},
            {"data": {"name": "d"}, "mark": {"type": "tick", "color": "#000", "thickness": 1.6, "size": 6},
             "encoding": {"x": {"field": "key", "type": "nominal"}, "y": {"field": "err", "type": "quantitative"}}},
            {"data": {"name": "one"}, "mark": {"type": "rect", "fill": "#fff"},
             "encoding": {"y": {"datum": 2, "type": "quantitative"}, "y2": {"datum": 6.5}}},
            {"data": {"name": "ds"}, "mark": {"type": "rule", "color": "#000", "strokeWidth": 1.2},
             "encoding": {"x": {"field": "from", "type": "nominal"}, "x2": {"field": "to"}, "y": {"field": "y", "type": "quantitative"}}},
            {"data": {"name": "ds"}, "mark": {"type": "text", "fontSize": 13, "dy": 5, "baseline": "alphabetic", "color": "#222"},
             "encoding": {"x": {"field": "from", "type": "nominal", "bandPosition": 1.636}, "y": {"field": "y", "type": "quantitative"}, "text": {"field": "label"}}}
          ]
        }
      ]
    }
  ],
  "config": {
    "font": "Liberation Sans",
    "view": {"stroke": null},
    "axis": {"domainColor": "#000", "tickColor": "#000", "labelColor": "#000", "titleColor": "#000", "domainWidth": 1.5, "tickWidth": 1.5, "labelFont": "Liberation Sans", "titleFont": "Liberation Sans", "labelFontWeight": "bold", "labelFontSize": 12, "titleFontSize": 13, "titleFontWeight": "normal", "grid": false, "tickSize": 5, "labelPadding": 2, "titlePadding": 2, "labelOverlap": false},
    "title": {"font": "Liberation Sans", "fontSize": 20, "fontWeight": "bold", "anchor": "start", "frame": "group", "color": "#000"}
  }
}
